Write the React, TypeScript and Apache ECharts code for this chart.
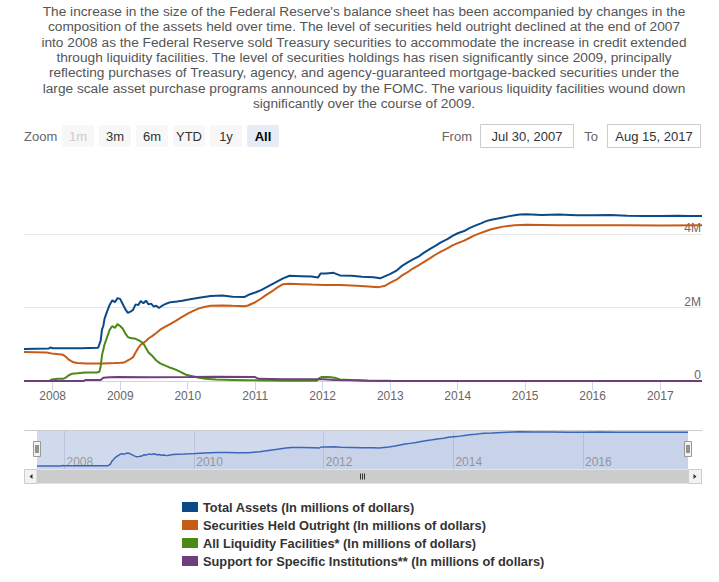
import React, { useEffect, useRef } from "react";
import * as echarts from "echarts";

const FONT = '"Liberation Sans", Arial, sans-serif';

const descriptionLines = [
  "The increase in the size of the Federal Reserve's balance sheet has been accompanied by changes in the",
  "composition of the assets held over time. The level of securities held outright declined at the end of 2007",
  "into 2008 as the Federal Reserve sold Treasury securities to accommodate the increase in credit extended",
  "through liquidity facilities. The level of securities holdings has risen significantly since 2009, principally",
  "reflecting purchases of Treasury, agency, and agency-guaranteed mortgage-backed securities under the",
  "large scale asset purchase programs announced by the FOMC. The various liquidity facilities wound down",
  "significantly over the course of 2009.",
];

const seriesNames = [
  "Total Assets (In millions of dollars)",
  "Securities Held Outright (In millions of dollars)",
  "All Liquidity Facilities* (In millions of dollars)",
  "Support for Specific Institutions** (In millions of dollars)",
];
const seriesColors = ["#0b4a86", "#c65b16", "#4b8a16", "#6d3f7e"];

const totalAssets: [string, number][] = [
  ["2007-07-30", 870000], ["2007-10-03", 880000], ["2007-12-12", 885000], ["2007-12-19", 915000],
  ["2008-01-02", 895000], ["2008-03-05", 890000], ["2008-06-04", 895000], ["2008-09-03", 905000],
  ["2008-09-17", 1100000], ["2008-09-24", 1400000], ["2008-10-01", 1500000], ["2008-10-08", 1700000],
  ["2008-10-22", 1900000], ["2008-11-05", 2080000], ["2008-11-19", 2200000], ["2008-12-03", 2150000],
  ["2008-12-17", 2260000], ["2008-12-31", 2240000], ["2009-01-14", 2100000], ["2009-01-28", 1960000],
  ["2009-02-11", 1860000], ["2009-02-25", 1890000], ["2009-03-11", 1940000], ["2009-03-25", 2090000],
  ["2009-04-08", 2070000], ["2009-04-22", 2180000], ["2009-05-06", 2120000], ["2009-05-20", 2190000],
  ["2009-06-03", 2090000], ["2009-06-17", 2110000], ["2009-07-01", 2030000], ["2009-07-15", 2050000],
  ["2009-07-29", 1990000], ["2009-08-12", 2040000], ["2009-09-02", 2100000], ["2009-09-30", 2150000],
  ["2009-11-04", 2170000], ["2009-12-02", 2190000], ["2010-01-06", 2220000], ["2010-03-03", 2270000],
  ["2010-05-05", 2320000], ["2010-07-07", 2330000], ["2010-09-01", 2300000], ["2010-11-03", 2290000],
  ["2010-12-01", 2360000], ["2011-01-05", 2420000], ["2011-02-02", 2480000], ["2011-04-06", 2650000],
  ["2011-06-01", 2800000], ["2011-07-06", 2870000], ["2011-09-07", 2860000], ["2011-11-02", 2850000],
  ["2011-12-07", 2820000], ["2011-12-21", 2930000], ["2012-01-18", 2930000], ["2012-02-29", 2950000],
  ["2012-04-04", 2880000], ["2012-06-06", 2870000], ["2012-08-01", 2840000], ["2012-10-03", 2830000],
  ["2012-11-07", 2800000], ["2012-12-05", 2860000], ["2013-01-02", 2920000], ["2013-02-06", 3020000],
  ["2013-03-06", 3140000], ["2013-04-03", 3230000], ["2013-05-01", 3310000], ["2013-06-05", 3400000],
  ["2013-07-03", 3500000], ["2013-08-07", 3610000], ["2013-09-04", 3690000], ["2013-10-02", 3780000],
  ["2013-11-06", 3870000], ["2013-12-04", 3960000], ["2014-01-01", 4030000], ["2014-02-05", 4090000],
  ["2014-03-05", 4170000], ["2014-04-02", 4230000], ["2014-05-07", 4300000], ["2014-06-04", 4360000],
  ["2014-07-02", 4400000], ["2014-08-06", 4430000], ["2014-09-03", 4460000], ["2014-10-01", 4490000],
  ["2014-11-05", 4520000], ["2014-12-03", 4540000], ["2015-01-07", 4550000], ["2015-04-01", 4530000],
  ["2015-07-01", 4540000], ["2015-10-07", 4520000], ["2016-01-06", 4520000], ["2016-04-06", 4530000],
  ["2016-07-06", 4510000], ["2016-10-05", 4500000], ["2017-01-04", 4500000], ["2017-04-05", 4510000],
  ["2017-06-07", 4500000], ["2017-08-15", 4500000],
];

const securitiesHeld: [string, number][] = [
  ["2007-07-30", 790000], ["2007-11-28", 780000], ["2007-12-19", 755000], ["2008-01-09", 740000],
  ["2008-02-27", 713000], ["2008-03-12", 660000], ["2008-03-26", 590000], ["2008-04-09", 548000],
  ["2008-04-23", 510000], ["2008-05-14", 490000], ["2008-07-02", 479000], ["2008-09-03", 479000],
  ["2008-10-01", 480000], ["2008-12-03", 490000], ["2008-12-31", 495000], ["2009-01-14", 500000],
  ["2009-01-28", 520000], ["2009-02-11", 560000], ["2009-02-25", 600000], ["2009-03-11", 650000],
  ["2009-03-25", 780000], ["2009-04-08", 900000], ["2009-04-22", 990000], ["2009-05-06", 1040000],
  ["2009-05-20", 1090000], ["2009-06-03", 1160000], ["2009-06-24", 1230000], ["2009-07-15", 1310000],
  ["2009-08-05", 1400000], ["2009-09-02", 1480000], ["2009-09-30", 1560000], ["2009-10-28", 1640000],
  ["2009-12-02", 1750000], ["2010-01-06", 1850000], ["2010-02-03", 1920000], ["2010-03-03", 1980000],
  ["2010-03-31", 2020000], ["2010-05-05", 2050000], ["2010-07-07", 2060000], ["2010-09-01", 2050000],
  ["2010-11-03", 2040000], ["2010-11-24", 2060000], ["2010-12-29", 2140000], ["2011-02-02", 2250000],
  ["2011-03-02", 2350000], ["2011-04-06", 2460000], ["2011-05-04", 2560000], ["2011-06-01", 2640000],
  ["2011-07-06", 2650000], ["2011-09-07", 2640000], ["2011-11-02", 2630000], ["2012-01-04", 2620000],
  ["2012-04-04", 2620000], ["2012-07-04", 2600000], ["2012-09-05", 2580000], ["2012-10-31", 2560000],
  ["2012-12-05", 2600000], ["2013-01-02", 2680000], ["2013-02-06", 2770000], ["2013-03-06", 2880000],
  ["2013-04-03", 2960000], ["2013-05-01", 3060000], ["2013-06-05", 3160000], ["2013-07-03", 3250000],
  ["2013-08-07", 3360000], ["2013-09-04", 3450000], ["2013-10-02", 3530000], ["2013-11-06", 3620000],
  ["2013-12-04", 3700000], ["2014-01-01", 3760000], ["2014-02-05", 3830000], ["2014-03-05", 3900000],
  ["2014-04-02", 3970000], ["2014-05-07", 4040000], ["2014-06-04", 4090000], ["2014-07-02", 4140000],
  ["2014-08-06", 4180000], ["2014-09-03", 4210000], ["2014-10-01", 4230000], ["2014-11-05", 4250000],
  ["2015-01-07", 4260000], ["2015-07-01", 4250000], ["2016-01-06", 4250000], ["2016-07-06", 4250000],
  ["2017-01-04", 4240000], ["2017-08-15", 4250000],
];

const liquidityFacilities: [string, number][] = [
  ["2007-07-30", 0], ["2007-12-12", 0], ["2007-12-26", 40000], ["2008-01-30", 60000],
  ["2008-02-27", 60000], ["2008-03-12", 90000], ["2008-03-26", 150000], ["2008-04-16", 200000],
  ["2008-05-14", 210000], ["2008-06-25", 230000], ["2008-08-27", 230000], ["2008-09-10", 250000],
  ["2008-09-17", 400000], ["2008-09-24", 700000], ["2008-10-08", 1000000], ["2008-10-22", 1200000],
  ["2008-11-05", 1400000], ["2008-11-19", 1500000], ["2008-12-03", 1450000], ["2008-12-17", 1550000],
  ["2008-12-31", 1500000], ["2009-01-14", 1430000], ["2009-01-28", 1300000], ["2009-02-11", 1200000],
  ["2009-02-25", 1170000], ["2009-03-25", 1150000], ["2009-04-22", 1080000], ["2009-05-06", 1020000],
  ["2009-05-20", 900000], ["2009-06-03", 780000], ["2009-06-24", 680000], ["2009-07-15", 560000],
  ["2009-08-05", 480000], ["2009-09-02", 420000], ["2009-09-30", 360000], ["2009-10-28", 310000],
  ["2009-11-25", 240000], ["2009-12-23", 170000], ["2010-01-27", 130000], ["2010-03-03", 90000],
  ["2010-04-07", 60000], ["2010-06-02", 40000], ["2010-09-01", 30000], ["2010-12-01", 20000],
  ["2011-06-01", 10000], ["2011-11-30", 5000], ["2011-12-14", 80000], ["2011-12-28", 110000],
  ["2012-02-01", 110000], ["2012-03-07", 90000], ["2012-04-04", 40000], ["2012-06-06", 25000],
  ["2012-09-05", 10000], ["2013-01-02", 5000], ["2013-06-05", 2000], ["2014-01-01", 0],
  ["2017-08-15", 0],
];

const specificInstitutions: [string, number][] = [
  ["2007-07-30", 0], ["2008-06-18", 0], ["2008-06-25", 29000], ["2008-09-17", 30000],
  ["2008-10-01", 90000], ["2008-11-05", 100000], ["2008-12-17", 110000], ["2009-06-03", 105000],
  ["2010-01-06", 110000], ["2010-06-02", 115000], ["2010-12-29", 110000], ["2011-01-19", 60000],
  ["2011-06-01", 50000], ["2012-01-04", 45000], ["2012-03-07", 30000], ["2012-06-06", 20000],
  ["2012-09-05", 5000], ["2013-01-02", 2000], ["2017-08-15", 1000],
];

const xStart = "2007-07-30";
const xEnd = "2017-08-15";
const yearTicks = [2008, 2009, 2010, 2011, 2012, 2013, 2014, 2015, 2016, 2017];
const navigatorYears = [2008, 2010, 2012, 2014, 2016];
const rangeButtons = ["1m", "3m", "6m", "YTD", "1y", "All"];
const fromLabel = "From";
const toLabel = "To";
const fromDate = "Jul 30, 2007";
const toDate = "Aug 15, 2017";

const ts = (s: string) => {
  const [y, m, d] = s.split("-").map(Number);
  return Date.UTC(y, m - 1, d);
};
const jan1 = (y: number) => Date.UTC(y, 0, 1);
const yearOf = (v: number) => String(new Date(v + 86400000).getUTCFullYear());

export default function App() {
  const ref = useRef<HTMLDivElement>(null);
  useEffect(() => {
    if (!ref.current) return;
    const chart = echarts.init(ref.current, null, { renderer: "svg" });
    const dataSets = [totalAssets, securitiesHeld, liquidityFacilities, specificInstitutions];

    const buttonGraphics: any[] = [];
    rangeButtons.forEach((b, i) => {
      const bx = 62 + i * 37;
      buttonGraphics.push({
        type: "rect",
        shape: { x: bx, y: 125, width: 32, height: 22, r: 2 },
        style: { fill: i === 5 ? "#e6ebf5" : "#f7f7f7" },
      });
      buttonGraphics.push({
        type: "text",
        x: bx + 16,
        y: 136,
        style: {
          text: b,
          align: "center",
          verticalAlign: "middle",
          fill: i === 0 ? "#cccccc" : i === 5 ? "#000000" : "#333333",
          fontSize: 13,
          fontWeight: i === 5 ? "bold" : "normal",
          fontFamily: FONT,
        },
      });
    });

    const handle = (cx: number) => [
      {
        type: "rect",
        shape: { x: cx - 3.5, y: 441.5, width: 7, height: 15 },
        style: { fill: "#f2f2f2", stroke: "#999999", lineWidth: 1 },
        z: 100,
      },
      { type: "line", shape: { x1: cx - 1, y1: 445, x2: cx - 1, y2: 453 }, style: { stroke: "#333", lineWidth: 1 }, z: 101 },
      { type: "line", shape: { x1: cx + 1, y1: 445, x2: cx + 1, y2: 453 }, style: { stroke: "#333", lineWidth: 1 }, z: 101 },
    ];

    const option: any = {
      animation: false,
      backgroundColor: "#ffffff",
      textStyle: { fontFamily: FONT },
      legend: {
        orient: "vertical",
        left: 177,
        top: 495,
        itemWidth: 16,
        itemHeight: 10,
        itemGap: 4,
        icon: "rect",
        selectedMode: false,
        data: seriesNames,
        textStyle: { fontWeight: "bold", fontSize: 12.8, color: "#333333", lineHeight: 14, fontFamily: FONT },
      },
      grid: [
        { left: 24, right: 17, top: 161, bottom: 201, containLabel: false },
        {
          left: 37,
          right: 31,
          top: 430,
          height: 39,
          show: true,
          backgroundColor: "rgba(102,133,194,0.3)",
          borderWidth: 0,
        },
      ],
      xAxis: [
        {
          type: "value",
          gridIndex: 0,
          min: ts(xStart),
          max: ts(xEnd),
          axisLine: { show: true, lineStyle: { color: "#ccd6eb", width: 1 } },
          axisTick: { show: true, length: 9, lineStyle: { color: "#ccd6eb" }, customValues: yearTicks.map(jan1) },
          axisLabel: {
            customValues: yearTicks.map(jan1),
            formatter: yearOf,
            color: "#666666",
            fontSize: 12,
            margin: 9,
            fontFamily: FONT,
          },
          splitLine: { show: false },
        },
        {
          type: "value",
          gridIndex: 1,
          min: ts(xStart),
          max: ts(xEnd),
          axisLine: { show: false },
          axisTick: { show: false, customValues: navigatorYears.map(jan1) },
          axisLabel: {
            customValues: navigatorYears.map(jan1),
            formatter: yearOf,
            inside: true,
            align: "left",
            padding: [0, 0, 0, 2],
            margin: 1,
            color: "#999999",
            fontSize: 12,
            fontFamily: FONT,
          },
          splitLine: { show: true, lineStyle: { color: "#bcc5da", width: 1 } },
        },
      ],
      yAxis: [
        {
          type: "value",
          gridIndex: 0,
          position: "right",
          min: 0,
          max: 6000000,
          interval: 2000000,
          axisLine: { show: false },
          axisTick: { show: false },
          axisLabel: {
            inside: true,
            margin: 1,
            verticalAlign: "bottom",
            lineHeight: 12,
            color: "#666666",
            fontSize: 12,
            fontFamily: FONT,
            showMaxLabel: false,
            formatter: (v: number) => (v === 0 ? "0" : v / 1000000 + "M"),
          },
          splitLine: { show: true, showMaxLine: false, lineStyle: { color: "#e6e6e6", width: 1 } },
        },
        {
          type: "value",
          gridIndex: 1,
          min: 550000,
          max: 4750000,
          show: false,
          splitLine: { show: false },
        },
      ],
      series: [
        ...dataSets.map((d, i) => ({
          name: seriesNames[i],
          type: "line",
          xAxisIndex: 0,
          yAxisIndex: 0,
          data: d.map(([t, v]) => [ts(t), v]),
          showSymbol: false,
          symbol: "none",
          lineStyle: { width: 2, color: seriesColors[i] },
          itemStyle: { color: seriesColors[i] },
          emphasis: { disabled: true },
        })),
        {
          name: "navigator",
          type: "line",
          xAxisIndex: 1,
          yAxisIndex: 1,
          data: totalAssets.map(([t, v]) => [ts(t), v]),
          showSymbol: false,
          symbol: "none",
          lineStyle: { width: 1.5, color: "#3a67b8" },
          areaStyle: { color: "rgba(51,92,173,0.08)" },
          emphasis: { disabled: true },
        },
      ],
      graphic: [
        {
          type: "text",
          x: 364,
          y: 4,
          style: {
            text: descriptionLines.join("\n"),
            align: "center",
            verticalAlign: "top",
            fill: "#555555",
            fontSize: 13.7,
            lineHeight: 15.3,
            fontFamily: FONT,
          },
        },
        {
          type: "text",
          x: 24,
          y: 136,
          style: { text: "Zoom", verticalAlign: "middle", fill: "#666666", fontSize: 13, fontFamily: FONT },
        },
        ...buttonGraphics,
        {
          type: "text",
          x: 472,
          y: 136,
          style: { text: fromLabel, align: "right", verticalAlign: "middle", fill: "#666666", fontSize: 13, fontFamily: FONT },
        },
        {
          type: "rect",
          shape: { x: 480.5, y: 124.5, width: 93, height: 23 },
          style: { fill: "#ffffff", stroke: "#cccccc", lineWidth: 1 },
        },
        {
          type: "text",
          x: 527,
          y: 136,
          style: { text: fromDate, align: "center", verticalAlign: "middle", fill: "#333333", fontSize: 13, fontFamily: FONT },
        },
        {
          type: "text",
          x: 598,
          y: 136,
          style: { text: toLabel, align: "right", verticalAlign: "middle", fill: "#666666", fontSize: 13, fontFamily: FONT },
        },
        {
          type: "rect",
          shape: { x: 607.5, y: 124.5, width: 93, height: 23 },
          style: { fill: "#ffffff", stroke: "#cccccc", lineWidth: 1 },
        },
        {
          type: "text",
          x: 654,
          y: 136,
          style: { text: toDate, align: "center", verticalAlign: "middle", fill: "#333333", fontSize: 13, fontFamily: FONT },
        },
        {
          type: "line",
          shape: { x1: 24, y1: 430.5, x2: 702, y2: 430.5 },
          style: { stroke: "#cccccc", lineWidth: 1 },
          z: 50,
        },
        {
          type: "rect",
          shape: { x: 24, y: 469.5, width: 678, height: 14 },
          style: { fill: "#f2f2f2" },
          z: 50,
        },
        {
          type: "rect",
          shape: { x: 37, y: 469.5, width: 651, height: 14 },
          style: { fill: "#cccccc" },
          z: 51,
        },
        {
          type: "rect",
          shape: { x: 24.5, y: 469.5, width: 12.5, height: 14 },
          style: { fill: "#f2f2f2", stroke: "#cccccc", lineWidth: 1 },
          z: 52,
        },
        {
          type: "rect",
          shape: { x: 688.5, y: 469.5, width: 13, height: 14 },
          style: { fill: "#f2f2f2", stroke: "#cccccc", lineWidth: 1 },
          z: 52,
        },
        {
          type: "polygon",
          shape: { points: [[29.5, 476.5], [32.5, 474], [32.5, 479]] },
          style: { fill: "#333333" },
          z: 53,
        },
        {
          type: "polygon",
          shape: { points: [[696.5, 476.5], [693.5, 474], [693.5, 479]] },
          style: { fill: "#333333" },
          z: 53,
        },
        ...[360.5, 362.5, 364.5].map((x) => ({
          type: "line",
          shape: { x1: x, y1: 473.5, x2: x, y2: 479.5 },
          style: { stroke: "#333333", lineWidth: 1 },
          z: 53,
        })),
        ...handle(37),
        ...handle(688),
      ],
    };
    chart.setOption(option);
    return () => chart.dispose();
  }, []);
  return (
    <div
      ref={ref}
      style={{ position: "absolute", left: 0, top: 0, width: 719, height: 582, background: "#fff" }}
    />
  );
}
